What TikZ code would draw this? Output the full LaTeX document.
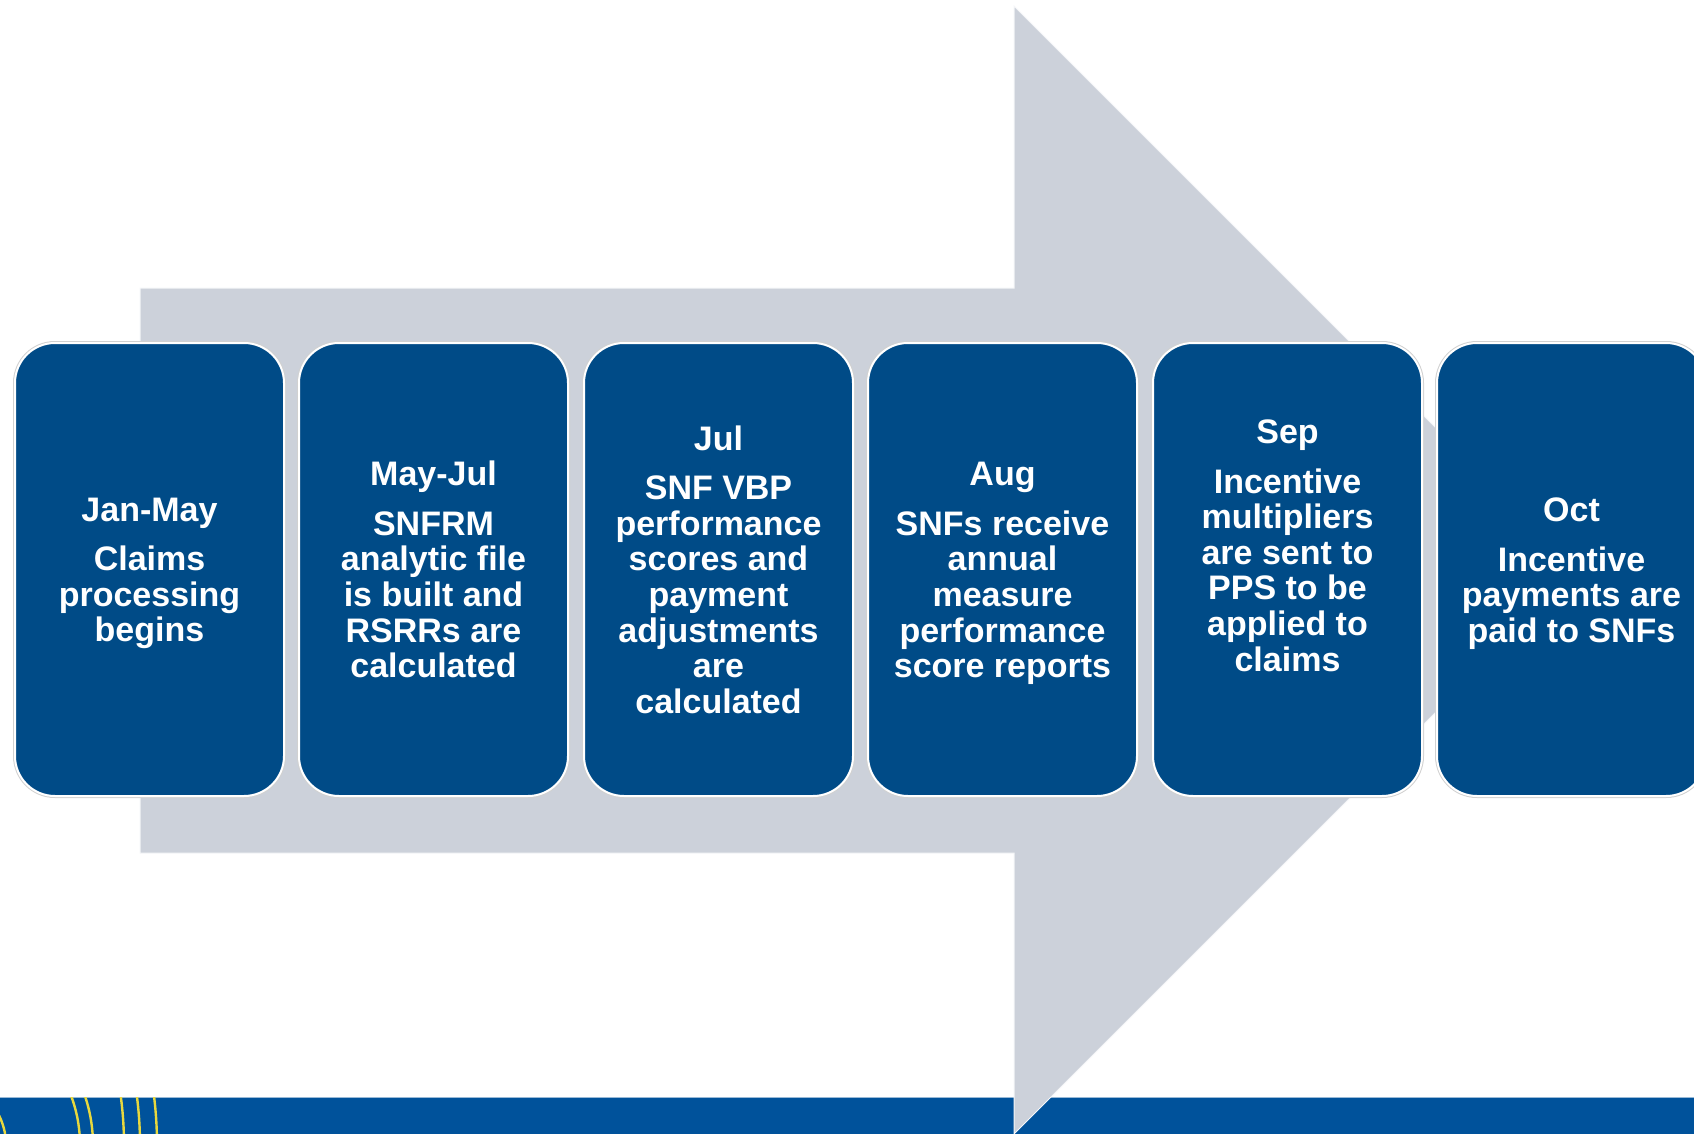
\documentclass[tikz,border=0pt]{standalone}
\usepackage{fontspec}
\setmainfont{Liberation Sans}
\usepackage{tikz}
\usetikzlibrary{fit}

\definecolor{boxblue}{RGB}{0,75,135}
\definecolor{arrowgrey}{RGB}{204,209,218}
\definecolor{bandblue}{RGB}{0,82,155}
\definecolor{arcyellow}{RGB}{232,216,62}

\tikzset{
	stage/.style={draw=white, line width=1.5pt, fill=boxblue, rounded corners=30pt, inner sep=0pt,
		preaction={draw=black!18, line width=3pt}},
	arrowbody/.style={fill=arrowgrey, draw=white!80!arrowgrey, line width=0.75pt},
	arcline/.style={draw=arcyellow, line width=1.8pt}
}

\begin{document}
\begin{tikzpicture}[x=0.75pt, y=-0.75pt,
	every label/.style={text=white, align=center, font=\bfseries\fontsize{25.5}{26.7}\selectfont}]
	\useasboundingbox (0,0) rectangle (1694,1134);

	\fill[bandblue] (0,1097) rectangle (1694,1134);						% bottom band
	\draw[white!60!bandblue, line width=0.75pt] (0,1097) -- (1694,1097);
	\begin{scope}
		\clip (0,1097) rectangle (1694,1134);							% yellow arcs
		\foreach \r in {66,140,153} \draw[arcline] (-60,1145) circle[radius=\r*0.75pt];
		\foreach \r in {365,381,398} \draw[arcline] (-241,1145) circle[radius=\r*0.75pt];
	\end{scope}

	\draw[arrowbody] (140,288) -- (1014,288) -- (1014,6) -- (1578,570) -- (1014,1134) -- (1014,853) -- (140,853) -- cycle;	% big arrow

	\node[stage, fit={(15,343) (284,796)}, label={[yshift=-3pt]center:{Jan-May\\[10.5pt]Claims\\processing\\begins}}] (A) {};	% stages
	\node[stage, fit={(299,343) (568,796)}, label=center:{May-Jul\\[10.5pt]SNFRM\\analytic file\\is built and\\RSRRs are\\calculated}] (B) {};
	\node[stage, fit={(584,343) (853,796)}, label=center:{Jul\\[10.5pt]SNF VBP\\performance\\scores and\\payment\\adjustments\\are\\calculated}] (C) {};
	\node[stage, fit={(868,343) (1137,796)}, label={[yshift=-3pt]center:{Aug\\[10.5pt]SNFs receive\\annual\\measure\\performance\\score reports}}] (D) {};
	\node[stage, fit={(1153,343) (1422,796)}, label={[yshift=18pt]center:{Sep\\[10.5pt]Incentive\\multipliers\\are sent to\\PPS to be\\applied to\\claims}}] (E) {};
	\node[stage, fit={(1437,343) (1706,796)}, label={[yshift=-3pt]center:{Oct\\[10.5pt]Incentive\\payments are\\paid to SNFs}}] (F) {};
\end{tikzpicture}
\end{document}
